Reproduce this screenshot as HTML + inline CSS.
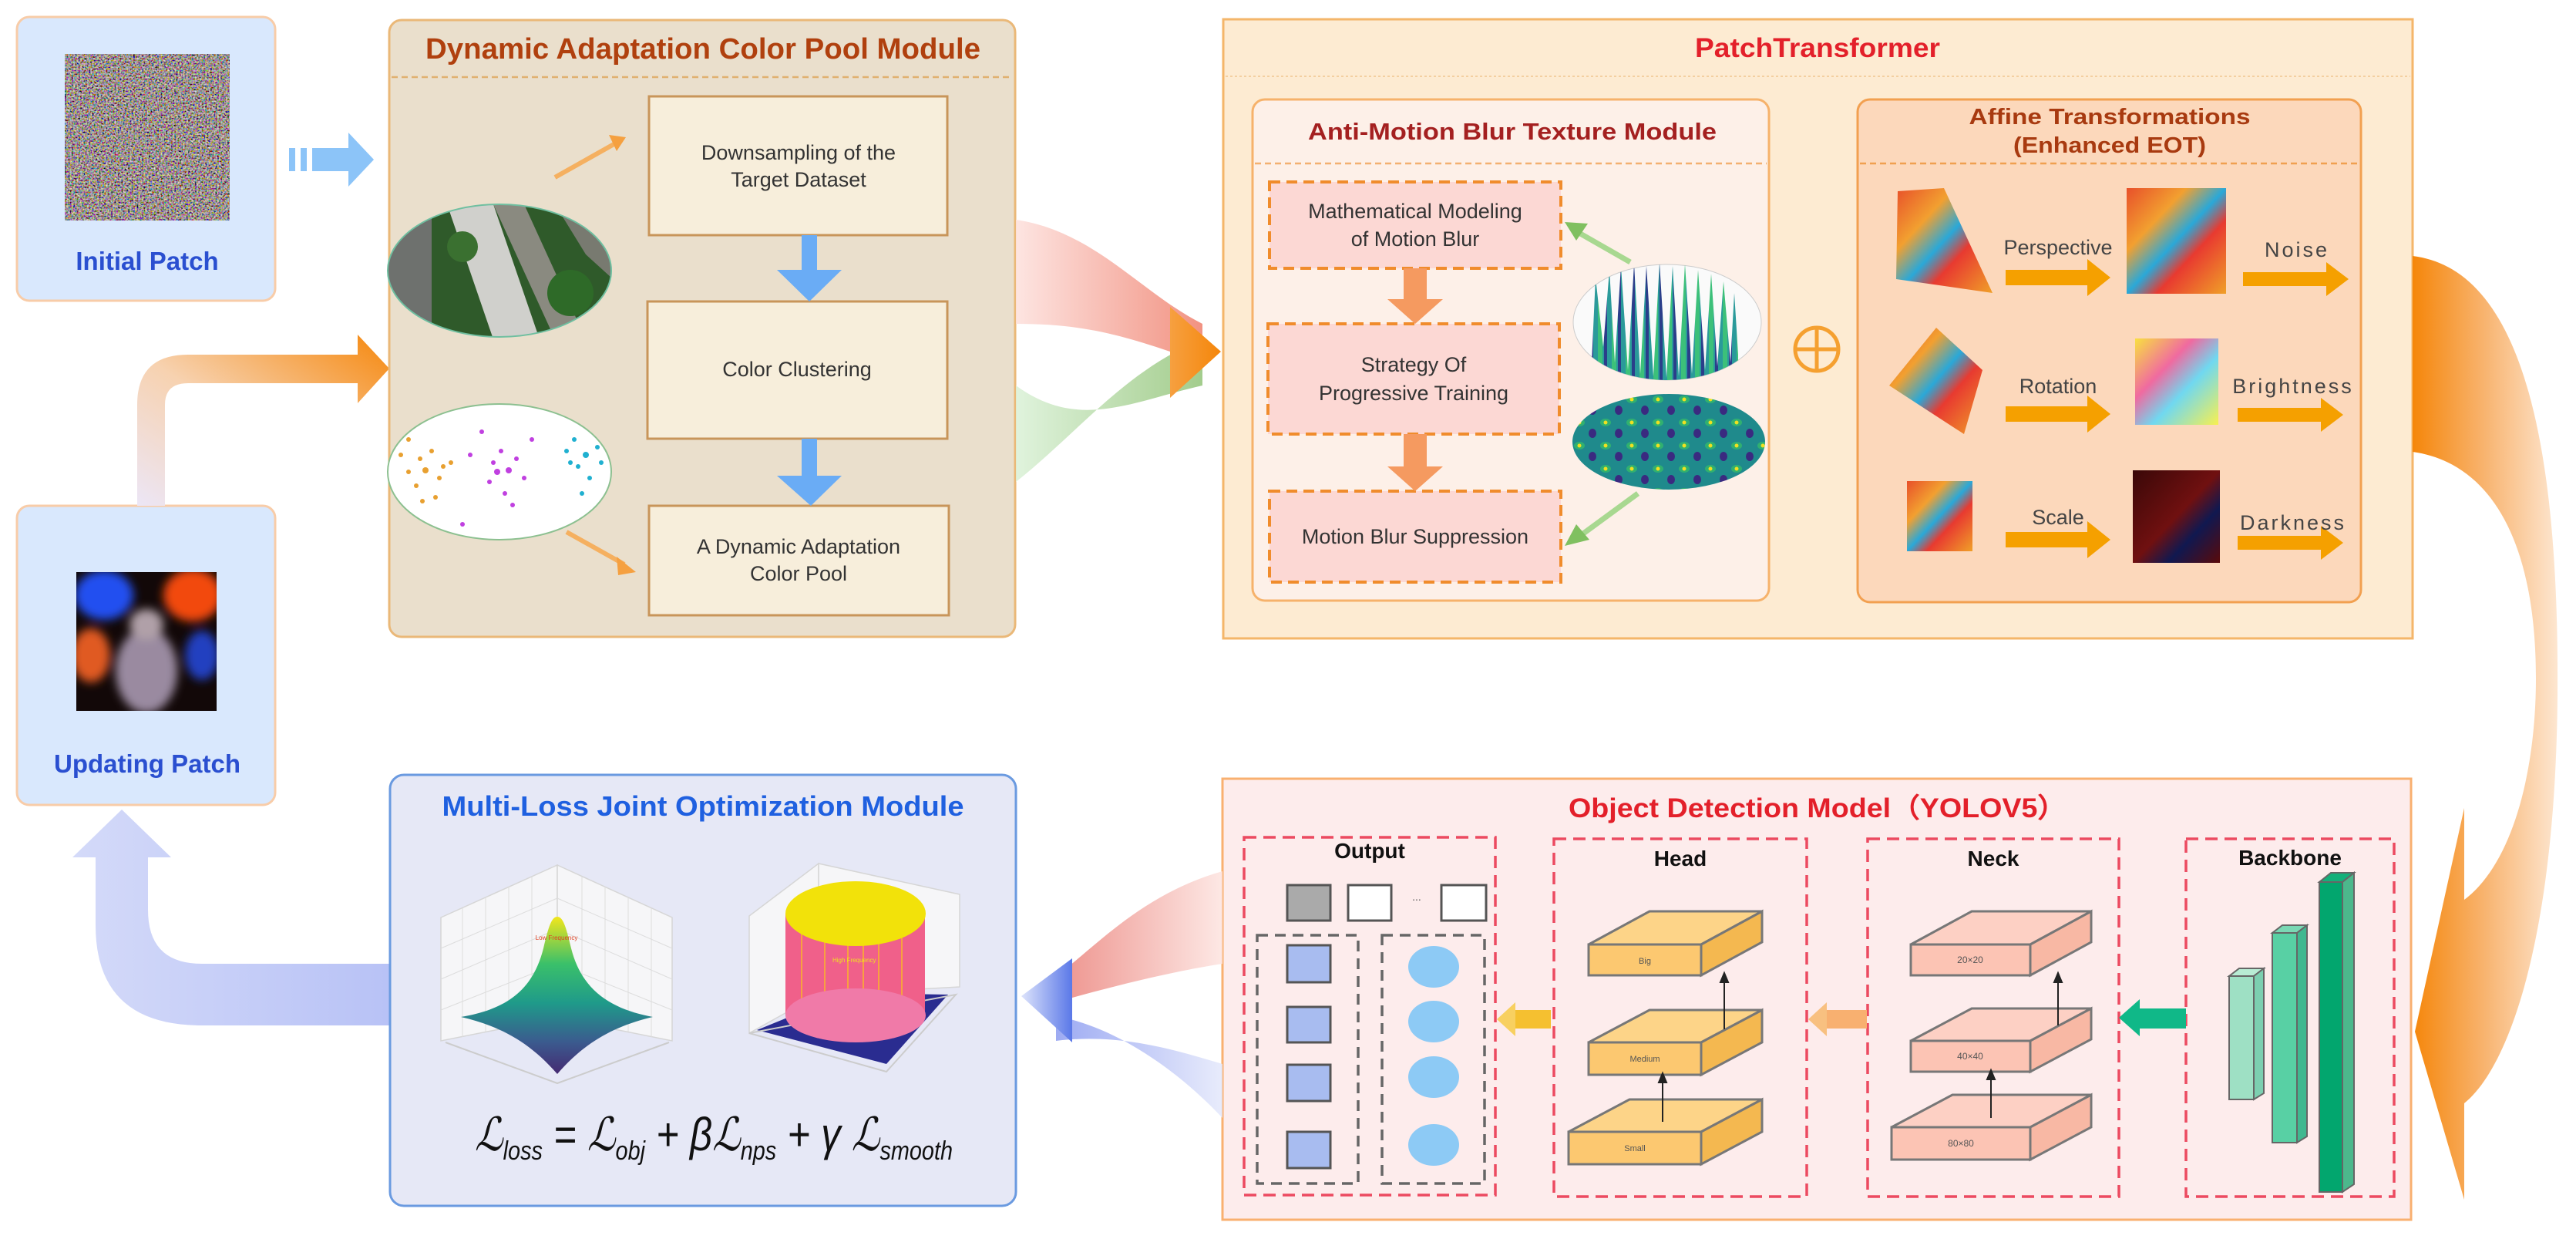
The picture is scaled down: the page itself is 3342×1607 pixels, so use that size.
<!DOCTYPE html>
<html><head><meta charset="utf-8"><style>
html,body{margin:0;padding:0;background:#fff;}
svg{display:block;}
text{font-family:"Liberation Sans",sans-serif;}
</style></head><body>
<svg width="3342" height="1607" viewBox="0 0 3342 1607" xmlns="http://www.w3.org/2000/svg">
<defs>
<filter id="noise" x="0" y="0" width="100%" height="100%">
<feTurbulence type="fractalNoise" baseFrequency="0.45" numOctaves="2" seed="3"/>
<feColorMatrix values="1.5 0.3 0 0 -0.55  0.3 1.4 0 0 -0.55  0 0.3 1.5 0 -0.6  0 0 0 0 1"/>
</filter>
<filter id="blur8"><feGaussianBlur stdDeviation="6"/></filter>
<linearGradient id="gOrangeL" x1="0" y1="1" x2="1" y2="0">
<stop offset="0" stop-color="#ece6f6"/><stop offset="0.45" stop-color="#f7d2b0"/><stop offset="1" stop-color="#f5870c"/></linearGradient>
<linearGradient id="gBlueL" x1="1" y1="0" x2="0" y2="0">
<stop offset="0" stop-color="#b8c2f6"/><stop offset="1" stop-color="#d4daf9"/></linearGradient>
<linearGradient id="gBigOr" x1="0" y1="0" x2="1" y2="0">
<stop offset="0" stop-color="#f5860a"/><stop offset="0.5" stop-color="#f8b470"/><stop offset="1" stop-color="#fde6d0"/></linearGradient>
<linearGradient id="gRed" x1="0" y1="0" x2="1" y2="0">
<stop offset="0" stop-color="#fde0dc"/><stop offset="1" stop-color="#ef7f6c"/></linearGradient>
<linearGradient id="gGreen" x1="0" y1="0" x2="1" y2="0">
<stop offset="0" stop-color="#d8f0d4"/><stop offset="1" stop-color="#8cc070"/></linearGradient>
<linearGradient id="gRed2" x1="1" y1="0" x2="0" y2="0">
<stop offset="0" stop-color="#fde4e0"/><stop offset="1" stop-color="#ea7f78"/></linearGradient>
<linearGradient id="gBlue2" x1="1" y1="0" x2="0" y2="0">
<stop offset="0" stop-color="#e4e8fb"/><stop offset="1" stop-color="#8c9cf0"/></linearGradient>
<linearGradient id="gOrHead" x1="0" y1="0" x2="1" y2="0">
<stop offset="0" stop-color="#f6a040"/><stop offset="1" stop-color="#f5860a"/></linearGradient>
<linearGradient id="gBlueHead" x1="0" y1="0" x2="1" y2="0">
<stop offset="0" stop-color="#dde3fb"/><stop offset="1" stop-color="#5a78e8"/></linearGradient>
<linearGradient id="gPeak" x1="0" y1="0" x2="0" y2="1">
<stop offset="0" stop-color="#f2e61c"/><stop offset="0.3" stop-color="#3ac06a"/><stop offset="0.55" stop-color="#1f9a8a"/><stop offset="0.8" stop-color="#3b5a8e"/><stop offset="1" stop-color="#452a72"/></linearGradient>
<linearGradient id="gAff" x1="0" y1="0" x2="1" y2="1">
<stop offset="0" stop-color="#e8502a"/><stop offset="0.3" stop-color="#f2a030"/><stop offset="0.5" stop-color="#2aa8d8"/><stop offset="0.65" stop-color="#e83a30"/><stop offset="1" stop-color="#f0a028"/></linearGradient>
<linearGradient id="gAffB" x1="0" y1="0" x2="1" y2="1">
<stop offset="0" stop-color="#f8e040"/><stop offset="0.35" stop-color="#f06aa0"/><stop offset="0.6" stop-color="#70d8f0"/><stop offset="1" stop-color="#f8f050"/></linearGradient>
<linearGradient id="gAffD" x1="0" y1="0" x2="1" y2="1">
<stop offset="0" stop-color="#3a0808"/><stop offset="0.5" stop-color="#701010"/><stop offset="0.7" stop-color="#101850"/><stop offset="1" stop-color="#5a0a0a"/></linearGradient>
<pattern id="spikes" width="18" height="40" patternUnits="userSpaceOnUse">
<rect width="18" height="40" fill="#2a9a9a"/><rect x="3" width="6" height="40" fill="#3cc07a"/><rect x="11" width="4" height="40" fill="#2a3e8a"/></pattern>
<pattern id="dots" width="34" height="30" patternUnits="userSpaceOnUse">
<rect width="34" height="30" fill="#1f8a8c"/><ellipse cx="9" cy="8" rx="7" ry="5" fill="#30b070"/><ellipse cx="26" cy="22" rx="5" ry="6" fill="#3a2a80"/><circle cx="9" cy="8" r="2.5" fill="#f0e020"/></pattern>
<clipPath id="cCity"><ellipse cx="648" cy="351" rx="145" ry="86"/></clipPath>
<clipPath id="cScat"><ellipse cx="648" cy="612" rx="145" ry="88"/></clipPath>
<clipPath id="cSpk"><ellipse cx="2163" cy="418" rx="122" ry="75"/></clipPath>
<clipPath id="cDot"><ellipse cx="2165" cy="573" rx="125" ry="62"/></clipPath>
<clipPath id="cUpd"><rect x="99" y="742" width="182" height="180"/></clipPath>
</defs>

<rect x="22" y="22" width="335" height="368" rx="16" fill="#d9e8fd" stroke="#f8cca8" stroke-width="3"/>
<rect x="84" y="70" width="214" height="216" filter="url(#noise)"/>
<text x="191" y="350" font-size="33" font-weight="bold" fill="#2a4fd0" text-anchor="middle">Initial Patch</text>

<rect x="22" y="656" width="335" height="388" rx="16" fill="#d9e8fd" stroke="#f8cca8" stroke-width="3"/>
<rect x="99" y="742" width="182" height="180" fill="#120808"/>
<g clip-path="url(#cUpd)"><g filter="url(#blur8)">
<ellipse cx="135" cy="772" rx="38" ry="32" fill="#2050f0"/>
<ellipse cx="250" cy="772" rx="38" ry="34" fill="#f24a10"/>
<ellipse cx="118" cy="850" rx="25" ry="35" fill="#e05a20"/>
<ellipse cx="262" cy="850" rx="22" ry="32" fill="#2040c0"/>
<ellipse cx="190" cy="870" rx="40" ry="55" fill="#9a8aa0"/>
<ellipse cx="190" cy="810" rx="22" ry="20" fill="#b0a0a8"/>
</g></g>
<text x="191" y="1002" font-size="33" font-weight="bold" fill="#2a4fd0" text-anchor="middle">Updating Patch</text>

<rect x="375" y="192" width="8" height="30" fill="#8cc4f8"/>
<rect x="390" y="192" width="8" height="30" fill="#8cc4f8"/>
<rect x="405" y="192" width="50" height="30" fill="#8cc4f8"/>
<polygon points="452,172 485,207 452,242" fill="#8cc4f8"/>

<path d="M214,656 L214,525 Q214,497 244,497 L464,497 L464,523 L505,478 L464,434 L464,460 L244,460 Q178,460 178,525 L178,656 Z" fill="url(#gOrangeL)"/>

<path d="M506,1250 L262,1250 Q192,1250 192,1180 L192,1112 L222,1112 L158,1050 L94,1112 L124,1112 L124,1200 Q124,1330 262,1330 L506,1330 Z" fill="url(#gBlueL)"/>

<rect x="505" y="26" width="812" height="800" rx="16" fill="#eadfcc" stroke="#eab878" stroke-width="3"/>
<line x1="508" y1="100" x2="1314" y2="100" stroke="#e0b070" stroke-width="2.5" stroke-dasharray="8,5"/>
<text x="912" y="76" font-size="38" font-weight="bold" fill="#b0400e" text-anchor="middle" textLength="720" lengthAdjust="spacingAndGlyphs">Dynamic Adaptation Color Pool  Module</text>
<rect x="842" y="125" width="387" height="180" fill="#f7eedb" stroke="#c8955a" stroke-width="3"/>
<text x="1036" y="207" font-size="27" fill="#333" text-anchor="middle">Downsampling of the</text>
<text x="1036" y="242" font-size="27" fill="#333" text-anchor="middle">Target Dataset</text>
<rect x="840" y="391" width="389" height="178" fill="#f7eedb" stroke="#c8955a" stroke-width="3"/>
<text x="1034" y="488" font-size="27" fill="#333" text-anchor="middle">Color Clustering</text>
<rect x="842" y="656" width="389" height="142" fill="#f7eedb" stroke="#c8955a" stroke-width="3"/>
<text x="1036" y="718" font-size="27" fill="#333" text-anchor="middle">A Dynamic Adaptation</text>
<text x="1036" y="753" font-size="27" fill="#333" text-anchor="middle">Color Pool</text>
<rect x="1040" y="305" width="20" height="45" fill="#6aacf5"/>
<polygon points="1008,350 1092,350 1050,391" fill="#6aacf5"/>
<rect x="1040" y="569" width="20" height="50" fill="#6aacf5"/>
<polygon points="1008,617 1092,617 1052,656" fill="#6aacf5"/>
<line x1="720" y1="230" x2="800" y2="185" stroke="#f5b060" stroke-width="6"/>
<polygon points="790,175 812,178 800,196" fill="#f5a040"/>
<line x1="735" y1="690" x2="810" y2="732" stroke="#f5b060" stroke-width="6"/>
<polygon points="800,722 825,742 802,746" fill="#f5a040"/>
<g clip-path="url(#cCity)">
<rect x="503" y="265" width="290" height="175" fill="#2f5a2a"/>
<polygon points="503,265 560,265 560,440 503,440" fill="#6e716e"/>
<polygon points="580,265 640,265 700,440 640,440" fill="#d0d0cc"/>
<polygon points="640,265 680,265 760,440 720,440" fill="#8a8a80"/>
<polygon points="720,265 793,265 793,360 760,330" fill="#787a70"/>
<circle cx="600" cy="320" r="20" fill="#3a7030"/><circle cx="740" cy="380" r="30" fill="#2e6a28"/>
</g>
<ellipse cx="648" cy="351" rx="145" ry="86" fill="none" stroke="#6fbfa0" stroke-width="2"/>
<g clip-path="url(#cScat)">
<rect x="503" y="524" width="290" height="178" fill="#ffffff"/>
<g fill="#e8a030"><circle cx="530" cy="570" r="3"/><circle cx="545" cy="595" r="3"/><circle cx="560" cy="585" r="3"/><circle cx="552" cy="610" r="4"/><circle cx="570" cy="620" r="3"/><circle cx="540" cy="630" r="3"/><circle cx="585" cy="600" r="3"/><circle cx="530" cy="612" r="3"/><circle cx="565" cy="645" r="3"/><circle cx="548" cy="650" r="3"/><circle cx="520" cy="590" r="3"/><circle cx="575" cy="605" r="3"/></g>
<g fill="#c040e0"><circle cx="640" cy="600" r="3"/><circle cx="650" cy="585" r="3"/><circle cx="660" cy="610" r="4"/><circle cx="635" cy="625" r="3"/><circle cx="670" cy="595" r="3"/><circle cx="655" cy="640" r="3"/><circle cx="625" cy="560" r="3"/><circle cx="680" cy="620" r="3"/><circle cx="645" cy="612" r="4"/><circle cx="665" cy="655" r="3"/><circle cx="610" cy="590" r="3"/><circle cx="600" cy="680" r="3"/><circle cx="690" cy="570" r="3"/></g>
<g fill="#20b0d0"><circle cx="745" cy="570" r="3"/><circle cx="760" cy="590" r="4"/><circle cx="750" cy="605" r="3"/><circle cx="775" cy="580" r="3"/><circle cx="765" cy="620" r="3"/><circle cx="740" cy="600" r="3"/><circle cx="780" cy="600" r="3"/><circle cx="755" cy="640" r="3"/><circle cx="735" cy="585" r="3"/></g>
</g>
<ellipse cx="648" cy="612" rx="145" ry="88" fill="none" stroke="#8cc090" stroke-width="2"/>

<path d="M1318,285 C1420,300 1480,380 1560,420 L1560,470 C1470,440 1420,420 1318,420 Z" fill="url(#gRed)" opacity="0.85"/>
<path d="M1318,625 C1400,560 1460,480 1560,440 L1560,500 C1470,520 1400,560 1318,500 Z" fill="url(#gGreen)" opacity="0.8"/>
<polygon points="1518,398 1584,456 1518,516" fill="url(#gOrHead)"/>

<rect x="1587" y="25" width="1543" height="803" fill="#fdebd2" stroke="#f4b66a" stroke-width="3"/>
<line x1="1590" y1="99" x2="3127" y2="99" stroke="#f3cfa0" stroke-width="2" stroke-dasharray="3,3"/>
<text x="2358" y="74" font-size="35" font-weight="bold" fill="#e3202a" text-anchor="middle" textLength="318" lengthAdjust="spacingAndGlyphs">PatchTransformer</text>

<rect x="1625" y="129" width="670" height="650" rx="16" fill="#fdf0e8" stroke="#f6b26b" stroke-width="3"/>
<line x1="1628" y1="212" x2="2292" y2="212" stroke="#f3b070" stroke-width="2.5" stroke-dasharray="8,5"/>
<text x="1962" y="181" font-size="31" font-weight="bold" fill="#a42020" text-anchor="middle" textLength="530" lengthAdjust="spacingAndGlyphs">Anti-Motion Blur Texture Module</text>
<g fill="#fcd8d4" stroke="#f08c2c" stroke-width="4" stroke-dasharray="14,8">
<rect x="1647" y="236" width="378" height="112"/>
<rect x="1645" y="420" width="378" height="143"/>
<rect x="1647" y="637" width="378" height="118"/>
</g>
<g font-size="27" fill="#333" text-anchor="middle">
<text x="1836" y="283">Mathematical Modeling</text>
<text x="1836" y="319">of Motion Blur</text>
<text x="1834" y="482">Strategy Of</text>
<text x="1834" y="519">Progressive Training</text>
<text x="1836" y="705">Motion Blur Suppression</text>
</g>
<rect x="1821" y="348" width="30" height="42" fill="#f59a60"/>
<polygon points="1800,388 1872,388 1836,420" fill="#f59a60"/>
<rect x="1821" y="563" width="30" height="45" fill="#f59a60"/>
<polygon points="1800,605 1872,605 1836,637" fill="#f59a60"/>
<line x1="2115" y1="340" x2="2045" y2="300" stroke="#a8d890" stroke-width="7"/>
<polygon points="2030,288 2060,290 2045,312" fill="#80c060"/>
<line x1="2125" y1="640" x2="2050" y2="695" stroke="#a8d890" stroke-width="7"/>
<polygon points="2030,708 2045,680 2062,700" fill="#80c060"/>
<ellipse cx="2163" cy="418" rx="122" ry="75" fill="#fafafa" stroke="#ccc" stroke-width="1"/>
<g clip-path="url(#cSpk)">
<path d="M2065,470 L2070,360 L2080,450 L2088,350 L2095,470 L2103,345 L2112,480 L2120,342 L2128,485 L2136,345 L2145,488 L2153,340 L2162,490 L2170,345 L2178,488 L2186,342 L2195,485 L2203,350 L2212,480 L2220,355 L2228,475 L2236,365 L2245,470 L2250,380 L2255,460 L2255,495 L2065,495 Z" fill="url(#spikes)"/>
</g>
<g clip-path="url(#cDot)"><rect x="2040" y="511" width="250" height="125" fill="url(#dots)"/></g>

<circle cx="2357" cy="453" r="28" fill="none" stroke="#f5a030" stroke-width="5"/>
<line x1="2331" y1="453" x2="2383" y2="453" stroke="#f5a030" stroke-width="5"/>
<line x1="2357" y1="427" x2="2357" y2="479" stroke="#f5a030" stroke-width="5"/>

<rect x="2410" y="129" width="653" height="652" rx="16" fill="#fcd8bb" stroke="#f2a050" stroke-width="3"/>
<line x1="2413" y1="212" x2="3060" y2="212" stroke="#f0a050" stroke-width="2.5" stroke-dasharray="8,5"/>
<text x="2737" y="161" font-size="29" font-weight="bold" fill="#a83a10" text-anchor="middle" textLength="365" lengthAdjust="spacingAndGlyphs">Affine Transformations</text>
<text x="2737" y="198" font-size="29" font-weight="bold" fill="#a83a10" text-anchor="middle" textLength="250" lengthAdjust="spacingAndGlyphs">(Enhanced EOT)</text>
<polygon points="2462,248 2522,244 2585,380 2460,362" fill="url(#gAff)"/>
<rect x="2759" y="244" width="129" height="137" fill="url(#gAff)"/>
<polygon points="2512,425 2572,480 2548,563 2451,500" fill="url(#gAff)"/>
<rect x="2770" y="439" width="108" height="112" fill="url(#gAffB)"/>
<rect x="2474" y="624" width="85" height="91" fill="url(#gAff)"/>
<rect x="2767" y="610" width="113" height="120" fill="url(#gAffD)"/>
<g fill="#f5a000">
<rect x="2602" y="350" width="110" height="20"/><polygon points="2708,336 2738,360 2708,384"/>
<rect x="2602" y="527" width="110" height="20"/><polygon points="2708,513 2738,537 2708,561"/>
<rect x="2602" y="690" width="110" height="20"/><polygon points="2708,676 2738,700 2708,724"/>
<rect x="2910" y="353" width="110" height="18"/><polygon points="3018,340 3047,362 3018,384"/>
<rect x="2903" y="529" width="110" height="18"/><polygon points="3011,516 3040,538 3011,560"/>
<rect x="2903" y="695" width="110" height="18"/><polygon points="3011,682 3040,704 3011,726"/>
</g>
<g font-size="27" fill="#444" text-anchor="middle">
<text x="2670" y="330">Perspective</text>
<text x="2670" y="510">Rotation</text>
<text x="2670" y="680">Scale</text>
<text x="2980" y="333" letter-spacing="3">Noise</text>
<text x="2975" y="510" letter-spacing="3">Brightness</text>
<text x="2975" y="687" letter-spacing="3">Darkness</text>
</g>

<path d="M3130,332 C3280,350 3320,600 3318,900 C3316,1200 3260,1380 3197,1431 L3197,1556 L3133,1338 L3197,1048 L3197,1167 C3260,1120 3290,1000 3290,880 C3290,700 3230,600 3130,586 Z" fill="url(#gBigOr)"/>

<rect x="1586" y="1010" width="1542" height="572" fill="#fdecec" stroke="#f9b070" stroke-width="3"/>
<text x="2358" y="1060" font-size="35" font-weight="bold" fill="#e3202a" text-anchor="middle" textLength="646" lengthAdjust="spacingAndGlyphs">Object Detection Model（YOLOV5）</text>
<g fill="none" stroke="#ec4a60" stroke-width="3.5" stroke-dasharray="16,9">
<rect x="1614" y="1086" width="326" height="464"/>
<rect x="2016" y="1088" width="328" height="464"/>
<rect x="2423" y="1088" width="326" height="464"/>
<rect x="2836" y="1088" width="270" height="464"/>
</g>
<g font-size="28" font-weight="bold" fill="#111" text-anchor="middle">
<text x="1777" y="1113">Output</text>
<text x="2180" y="1123">Head</text>
<text x="2586" y="1123">Neck</text>
<text x="2971" y="1122">Backbone</text>
</g>
<rect x="1670" y="1148" width="56" height="46" fill="#aaa" stroke="#555" stroke-width="3"/>
<rect x="1749" y="1148" width="56" height="46" fill="#fff" stroke="#555" stroke-width="3"/>
<text x="1838" y="1168" font-size="14" fill="#555" text-anchor="middle">...</text>
<rect x="1870" y="1148" width="58" height="46" fill="#fff" stroke="#555" stroke-width="3"/>
<g fill="none" stroke="#666" stroke-width="3.5" stroke-dasharray="14,9">
<rect x="1631" y="1213" width="131" height="322"/>
<rect x="1793" y="1213" width="133" height="322"/>
</g>
<g fill="#a8bcf0" stroke="#555" stroke-width="3">
<rect x="1670" y="1226" width="56" height="48"/>
<rect x="1670" y="1306" width="56" height="46"/>
<rect x="1670" y="1381" width="56" height="47"/>
<rect x="1670" y="1468" width="56" height="47"/>
</g>
<g fill="#8dcaf5">
<ellipse cx="1860" cy="1254" rx="33" ry="27"/>
<ellipse cx="1860" cy="1325" rx="33" ry="27"/>
<ellipse cx="1860" cy="1397" rx="33" ry="27"/>
<ellipse cx="1860" cy="1485" rx="33" ry="27"/>
</g>
<g stroke="#777" stroke-width="3">
<polygon points="2061,1225 2140,1182 2286,1182 2207,1225" fill="#fdd488"/>
<polygon points="2207,1225 2286,1182 2286,1222 2207,1265" fill="#f4b850"/>
<rect x="2061" y="1225" width="146" height="40" fill="#fcc870"/>
<polygon points="2061,1352 2140,1310 2286,1310 2207,1352" fill="#fdd488"/>
<polygon points="2207,1352 2286,1310 2286,1352 2207,1394" fill="#f4b850"/>
<rect x="2061" y="1352" width="146" height="42" fill="#fcc870"/>
<polygon points="2035,1468 2114,1426 2286,1426 2207,1468" fill="#fdd488"/>
<polygon points="2207,1468 2286,1426 2286,1468 2207,1510" fill="#f4b850"/>
<rect x="2035" y="1468" width="172" height="42" fill="#fcc870"/>
</g>
<g font-size="11" fill="#555" text-anchor="middle">
<text x="2134" y="1250">Big</text><text x="2134" y="1377">Medium</text><text x="2121" y="1493">Small</text>
</g>
<g stroke="#777" stroke-width="3">
<polygon points="2479,1225 2558,1182 2713,1182 2634,1225" fill="#fdd0c4"/>
<polygon points="2634,1225 2713,1182 2713,1222 2634,1265" fill="#f8b8a4"/>
<rect x="2479" y="1225" width="155" height="40" fill="#fcc4b4"/>
<polygon points="2479,1350 2558,1308 2713,1308 2634,1350" fill="#fdd0c4"/>
<polygon points="2634,1350 2713,1308 2713,1348 2634,1390" fill="#f8b8a4"/>
<rect x="2479" y="1350" width="155" height="40" fill="#fcc4b4"/>
<polygon points="2454,1462 2533,1420 2713,1420 2634,1462" fill="#fdd0c4"/>
<polygon points="2634,1462 2713,1420 2713,1462 2634,1504" fill="#f8b8a4"/>
<rect x="2454" y="1462" width="180" height="42" fill="#fcc4b4"/>
</g>
<g font-size="12" fill="#555" text-anchor="middle">
<text x="2556" y="1249">20×20</text><text x="2556" y="1374">40×40</text><text x="2544" y="1487">80×80</text>
</g>
<g stroke="#222" stroke-width="2" fill="#222">
<line x1="2157" y1="1455" x2="2157" y2="1402"/><polygon points="2152,1404 2157,1392 2162,1404"/>
<line x1="2237" y1="1335" x2="2237" y2="1272"/><polygon points="2232,1274 2237,1262 2242,1274"/>
<line x1="2583" y1="1450" x2="2583" y2="1398"/><polygon points="2578,1400 2583,1388 2588,1400"/>
<line x1="2670" y1="1330" x2="2670" y2="1272"/><polygon points="2665,1274 2670,1262 2675,1274"/>
</g>
<rect x="1962" y="1310" width="50" height="24" fill="#f5c030"/><polygon points="1942,1322 1966,1300 1966,1344" fill="#f8d060"/>
<rect x="2366" y="1310" width="56" height="24" fill="#f8b070"/><polygon points="2346,1322 2370,1300 2370,1344" fill="#f8c080"/>
<rect x="2772" y="1308" width="64" height="26" fill="#10b888"/><polygon points="2749,1320 2776,1296 2776,1344" fill="#10b888"/>
<g stroke="#666" stroke-width="2">
<polygon points="2892,1266 2905,1256 2937,1256 2924,1266" fill="#b8ecd4"/>
<rect x="2892" y="1266" width="32" height="160" fill="#9ee0c4"/>
<polygon points="2924,1266 2937,1256 2937,1418 2924,1426" fill="#7ccfb0"/>
<polygon points="2948,1210 2961,1200 2993,1200 2980,1210" fill="#7ad8b4"/>
<rect x="2948" y="1210" width="32" height="272" fill="#58d0a4"/>
<polygon points="2980,1210 2993,1200 2993,1474 2980,1482" fill="#40b890"/>
<polygon points="3009,1144 3024,1132 3054,1132 3039,1144" fill="#14b07a"/>
<rect x="3009" y="1144" width="30" height="402" fill="#02a66e"/>
<polygon points="3039,1144 3054,1132 3054,1536 3039,1546" fill="#4cb88c"/>
</g>

<path d="M1586,1130 C1480,1160 1420,1230 1370,1266 L1370,1300 C1440,1280 1520,1260 1586,1250 Z" fill="url(#gRed2)" opacity="0.85"/>
<path d="M1586,1450 C1520,1380 1440,1330 1370,1318 L1370,1350 C1450,1340 1520,1360 1586,1380 Z" fill="url(#gBlue2)" opacity="0.85"/>
<polygon points="1391,1243 1325,1292 1391,1352" fill="url(#gBlueHead)"/>

<rect x="506" y="1005" width="812" height="559" rx="18" fill="#e6e8f6" stroke="#6a9ae0" stroke-width="3"/>
<text x="912" y="1058" font-size="36" font-weight="bold" fill="#1f60e0" text-anchor="middle" textLength="677" lengthAdjust="spacingAndGlyphs">Multi-Loss Joint Optimization Module</text>
<g stroke="#d6d6d6" stroke-width="1.5" fill="#f6f6f8">
<polygon points="572,1190 723,1122 723,1320 572,1350"/>
<polygon points="723,1122 872,1190 872,1350 723,1320"/>
</g>
<g stroke="#ddd" stroke-width="1">
<line x1="600" y1="1178" x2="600" y2="1345"/><line x1="630" y1="1164" x2="630" y2="1338"/><line x1="660" y1="1150" x2="660" y2="1332"/><line x1="690" y1="1137" x2="690" y2="1326"/>
<line x1="755" y1="1137" x2="755" y2="1326"/><line x1="785" y1="1150" x2="785" y2="1332"/><line x1="815" y1="1164" x2="815" y2="1338"/><line x1="845" y1="1178" x2="845" y2="1345"/>
<line x1="572" y1="1230" x2="723" y2="1165"/><line x1="572" y1="1270" x2="723" y2="1205"/><line x1="572" y1="1310" x2="723" y2="1250"/>
<line x1="723" y1="1165" x2="872" y2="1230"/><line x1="723" y1="1205" x2="872" y2="1270"/><line x1="723" y1="1250" x2="872" y2="1310"/>
</g>
<path d="M598,1319 C650,1310 690,1290 705,1230 C712,1200 716,1189 723,1189 C730,1189 734,1200 741,1230 C756,1290 800,1310 847,1319 C800,1330 760,1350 723,1393 C686,1350 646,1330 598,1319 Z" fill="url(#gPeak)"/>
<polyline points="578,1352 723,1405 868,1352" fill="none" stroke="#ccc" stroke-width="2"/>
<text x="722" y="1219" font-size="8" fill="#e04020" text-anchor="middle">Low Frequency</text>
<g stroke="#d6d6d6" stroke-width="1.5" fill="#f6f6f8">
<polygon points="972,1188 1062,1120 1062,1290 972,1340"/>
<polygon points="1062,1120 1245,1160 1245,1280 1062,1290"/>
</g>
<polygon points="982,1336 1100,1288 1230,1290 1150,1380" fill="#2a2c90"/>
<polygon points="972,1340 1150,1390 1240,1290" fill="none" stroke="#ccc" stroke-width="2"/>
<rect x="1019" y="1185" width="181" height="132" fill="#f0608a"/>
<g stroke="#f8a040" stroke-width="2"><line x1="1040" y1="1190" x2="1040" y2="1330"/><line x1="1070" y1="1190" x2="1070" y2="1345"/><line x1="1100" y1="1190" x2="1100" y2="1350"/><line x1="1120" y1="1190" x2="1120" y2="1350"/><line x1="1140" y1="1190" x2="1140" y2="1348"/><line x1="1170" y1="1190" x2="1170" y2="1340"/></g>
<ellipse cx="1110" cy="1317" rx="91" ry="35" fill="#f07aa8"/>
<ellipse cx="1110" cy="1185" rx="91" ry="42" fill="#f2e20a"/>
<text x="1080" y="1248" font-size="8" fill="#f0e020">High Frequency</text>
<text x="616" y="1492" font-family="'Liberation Serif',serif" font-style="italic" font-size="60" fill="#111" textLength="620" lengthAdjust="spacingAndGlyphs">ℒ<tspan font-size="34" dy="12">loss</tspan><tspan dy="-12"> = ℒ</tspan><tspan font-size="34" dy="12">obj</tspan><tspan dy="-12"> + βℒ</tspan><tspan font-size="34" dy="12">nps</tspan><tspan dy="-12"> + γ ℒ</tspan><tspan font-size="34" dy="12">smooth</tspan></text>
</svg>
</body></html>
